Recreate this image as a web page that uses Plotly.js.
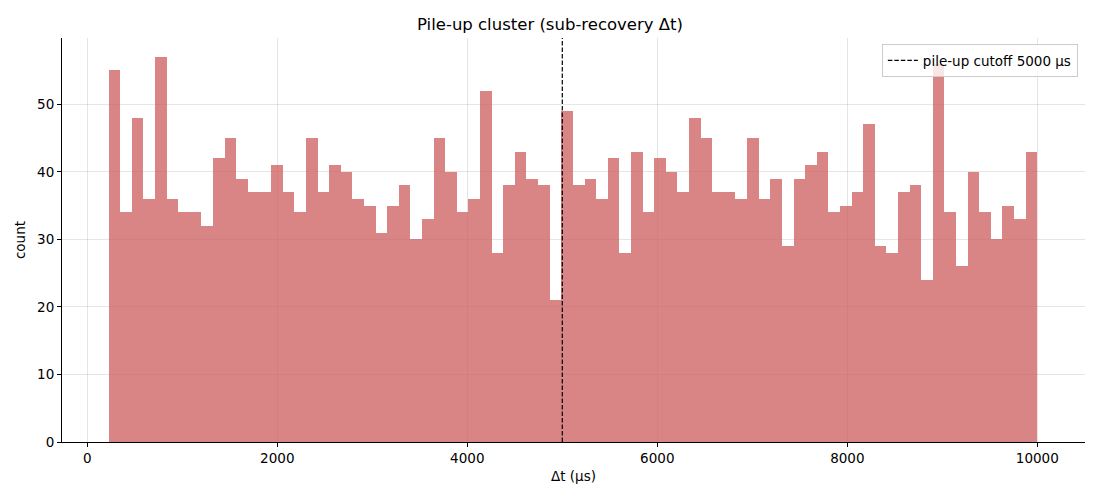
<!DOCTYPE html>
<html>
<head>
<meta charset="utf-8">
<script src="https://cdn.plot.ly/plotly-3.0.1.min.js"></script>
<style>
html, body { margin: 0; padding: 0; background: #fff; }
#chart { width: 1100px; height: 500px; }
</style>
</head>
<body>
<div id="chart"></div>
<script>
// Histogram bin counts, read left to right (80 bins).
const binStart = 224;
const binEnd = 10000;
const counts = [
55, 34, 48, 36, 57, 36, 34, 34, 32, 42,
45, 39, 37, 37, 41, 37, 34, 45, 37, 41,
40, 36, 35, 31, 35, 38, 30, 33, 45, 40,
34, 36, 52, 28, 38, 43, 39, 38, 21, 49,
38, 39, 36, 42, 28, 43, 34, 42, 40, 37,
48, 45, 37, 37, 36, 45, 36, 39, 29, 39,
41, 43, 34, 35, 37, 47, 29, 28, 37, 38,
24, 56, 34, 26, 40, 34, 30, 35, 33, 43
];
const cutoff = 5000;
const xTicks = [0, 2000, 4000, 6000, 8000, 10000];
const xTickText = ['0', '2000', '4000', '6000', '8000', '10000'];
const yTicks = [0, 10, 20, 30, 40, 50];

const binWidth = (binEnd - binStart) / counts.length;
const centers = counts.map((c, i) => binStart + binWidth * (i + 0.5));
const yTop = 59.8;

// Histogram bars.
let bars = {
type: 'bar',
x: centers,
y: counts,
width: binWidth,
marker: {color: 'rgba(205,92,92,0.75)', line: {width: 0}},
showlegend: false,
hoverinfo: 'x+y'
};

// Cutoff line.
let cut = {
type: 'scatter',
mode: 'lines',
x: [cutoff, cutoff],
y: [0, yTop],
line: {color: 'black', width: 1.2, dash: '4.5px,2px'},
name: 'pile-up cutoff ' + cutoff + ' μs',
showlegend: true
};

let font = {family: 'DejaVu Sans, sans-serif', size: 13.5, color: '#000'};

let layout = {
width: 1100,
height: 500,
margin: {l: 62, r: 15, t: 38, b: 58},
paper_bgcolor: '#fff',
plot_bgcolor: '#fff',
font: font,
bargap: 0,
title: {
text: 'Pile-up cluster (sub-recovery Δt)',
font: {family: 'DejaVu Sans, sans-serif', size: 16.5, color: '#000'},
x: 0.5,
xanchor: 'center',
y: 0.952,
yanchor: 'middle'
},
xaxis: {
range: [-266, 10502],
tickvals: xTicks,
ticktext: xTickText,
ticks: 'outside',
ticklen: 4,
tickcolor: '#000',
showline: true,
linecolor: '#000',
linewidth: 1,
showgrid: true,
gridcolor: 'rgba(0,0,0,0.1)',
zeroline: false,
title: {text: 'Δt (μs)', font: font, standoff: 6},
tickfont: font
},
yaxis: {
range: [0, yTop],
tickvals: yTicks,
ticks: 'outside',
ticklen: 4,
tickcolor: '#000',
showline: true,
linecolor: '#000',
linewidth: 1,
showgrid: true,
gridcolor: 'rgba(0,0,0,0.1)',
zeroline: false,
title: {text: 'count', font: font, standoff: 8},
tickfont: font
},
legend: {
x: 0.993,
xanchor: 'right',
y: 0.985,
yanchor: 'top',
bgcolor: 'rgba(255,255,255,0.8)',
bordercolor: '#ccc',
borderwidth: 1,
font: font
}
};

let config = {displayModeBar: false, responsive: false};

Plotly.newPlot('chart', [bars, cut], layout, config);
</script>
</body>
</html>
